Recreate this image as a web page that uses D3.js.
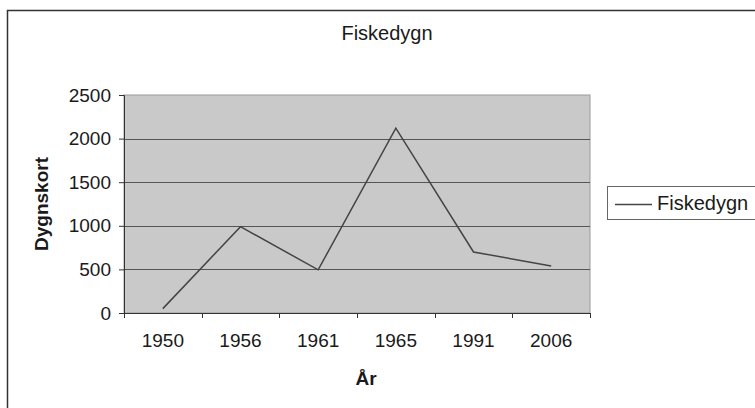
<!DOCTYPE html>
<html>
<head>
<meta charset="utf-8">
<script src="https://cdn.jsdelivr.net/npm/d3@7"></script>
<style>
  html, body { margin: 0; padding: 0; background: #fff; }
  svg { display: block; font-family: "Liberation Sans", Arial, sans-serif; }
</style>
</head>
<body>
<div id="chart-area"></div>
<script>
// chart data
const years = ['1950', '1956', '1961', '1965', '1991', '2006'];
const fiskedygn = [50, 990, 495, 2120, 700, 540];
const yTicks = [0, 500, 1000, 1500, 2000, 2500];
const seriesName = 'Fiskedygn';

const W = 755, H = 408;
const margin = { left: 124, right: 165, top: 95, bottom: 95 };
const width = W - margin.left - margin.right;   // 466
const height = H - margin.top - margin.bottom;  // 218

const svg = d3.select('#chart-area')
  .append('svg')
  .attr('width', W)
  .attr('height', H);

// outer chart frame (runs off the right and bottom edge)
svg.append('rect')
  .attr('x', 7.5).attr('y', 10.5)
  .attr('width', W + 20).attr('height', H + 20)
  .attr('fill', 'none')
  .attr('stroke', '#333')
  .attr('stroke-width', 1.5);

// title
svg.append('text')
  .attr('x', 387).attr('y', 40)
  .attr('text-anchor', 'middle')
  .attr('font-size', '20px')
  .attr('fill', '#1a1a1a')
  .text('Fiskedygn');

const g = svg.append('g')
  .attr('transform', 'translate(' + margin.left + ',' + margin.top + ')');

const x = d3.scaleBand().domain(years).range([0, width]);
const y = d3.scaleLinear().domain([0, 2500]).range([height, 0]);

// plot area
g.append('rect')
  .attr('width', width).attr('height', height)
  .attr('fill', '#c9c9c9')
  .attr('stroke', '#999')
  .attr('stroke-width', 1);

// gridlines
g.selectAll('.grid')
  .data(yTicks.filter(d => d > 0 && d < 2500))
  .enter()
  .append('line')
  .attr('x1', 0).attr('x2', width)
  .attr('y1', d => Math.round(y(d)) + 0.5)
  .attr('y2', d => Math.round(y(d)) + 0.5)
  .attr('stroke', '#555')
  .attr('stroke-width', 1);

// y axis
const yAxis = g.append('g')
  .call(d3.axisLeft(y).tickValues(yTicks).tickFormat(d3.format('d')).tickSize(5).tickPadding(8));
yAxis.select('.domain').attr('stroke', '#333');
yAxis.selectAll('.tick line').attr('stroke', '#333');
yAxis.selectAll('text')
  .attr('font-size', '19px')
  .attr('font-family', '"Liberation Sans", Arial, sans-serif')
  .attr('fill', '#1a1a1a');

// x axis
const xAxis = g.append('g')
  .attr('transform', 'translate(0,' + height + ')')
  .call(d3.axisBottom(x).tickSize(0).tickPadding(21));
xAxis.select('.domain').attr('stroke', '#333');
xAxis.selectAll('text')
  .attr('font-size', '19px')
  .attr('font-family', '"Liberation Sans", Arial, sans-serif')
  .attr('fill', '#1a1a1a');

// tick marks between categories
g.selectAll('.xtick')
  .data(d3.range(years.length + 1))
  .enter()
  .append('line')
  .attr('x1', i => Math.round(i * x.step()) + 0.5)
  .attr('x2', i => Math.round(i * x.step()) + 0.5)
  .attr('y1', height).attr('y2', height + 5)
  .attr('stroke', '#333');

// axis labels
g.append('text')
  .attr('x', width / 2 + 9)
  .attr('y', height + 72)
  .attr('text-anchor', 'middle')
  .attr('font-size', '19px')
  .attr('font-weight', 'bold')
  .attr('fill', '#1a1a1a')
  .text('År');

g.append('text')
  .attr('transform', 'rotate(-90)')
  .attr('x', -height / 2)
  .attr('y', -76)
  .attr('text-anchor', 'middle')
  .attr('font-size', '19px')
  .attr('font-weight', 'bold')
  .attr('fill', '#1a1a1a')
  .text('Dygnskort');

// series line
const line = d3.line()
  .x((d, i) => x(years[i]) + x.bandwidth() / 2)
  .y(d => y(d));

g.append('path')
  .datum(fiskedygn)
  .attr('d', line)
  .attr('fill', 'none')
  .attr('stroke', '#444')
  .attr('stroke-width', 1.5);

// legend
const lg = svg.append('g').attr('transform', 'translate(607,186)');
lg.append('rect')
  .attr('x', 0.5).attr('y', 0.5)
  .attr('width', 160).attr('height', 33)
  .attr('fill', '#fff')
  .attr('stroke', '#666');
lg.append('line')
  .attr('x1', 8).attr('x2', 45)
  .attr('y1', 18.5).attr('y2', 18.5)
  .attr('stroke', '#444')
  .attr('stroke-width', 1.5);
lg.append('text')
  .attr('x', 50).attr('y', 24)
  .attr('font-size', '20px')
  .attr('fill', '#1a1a1a')
  .text(seriesName);
</script>
</body>
</html>
